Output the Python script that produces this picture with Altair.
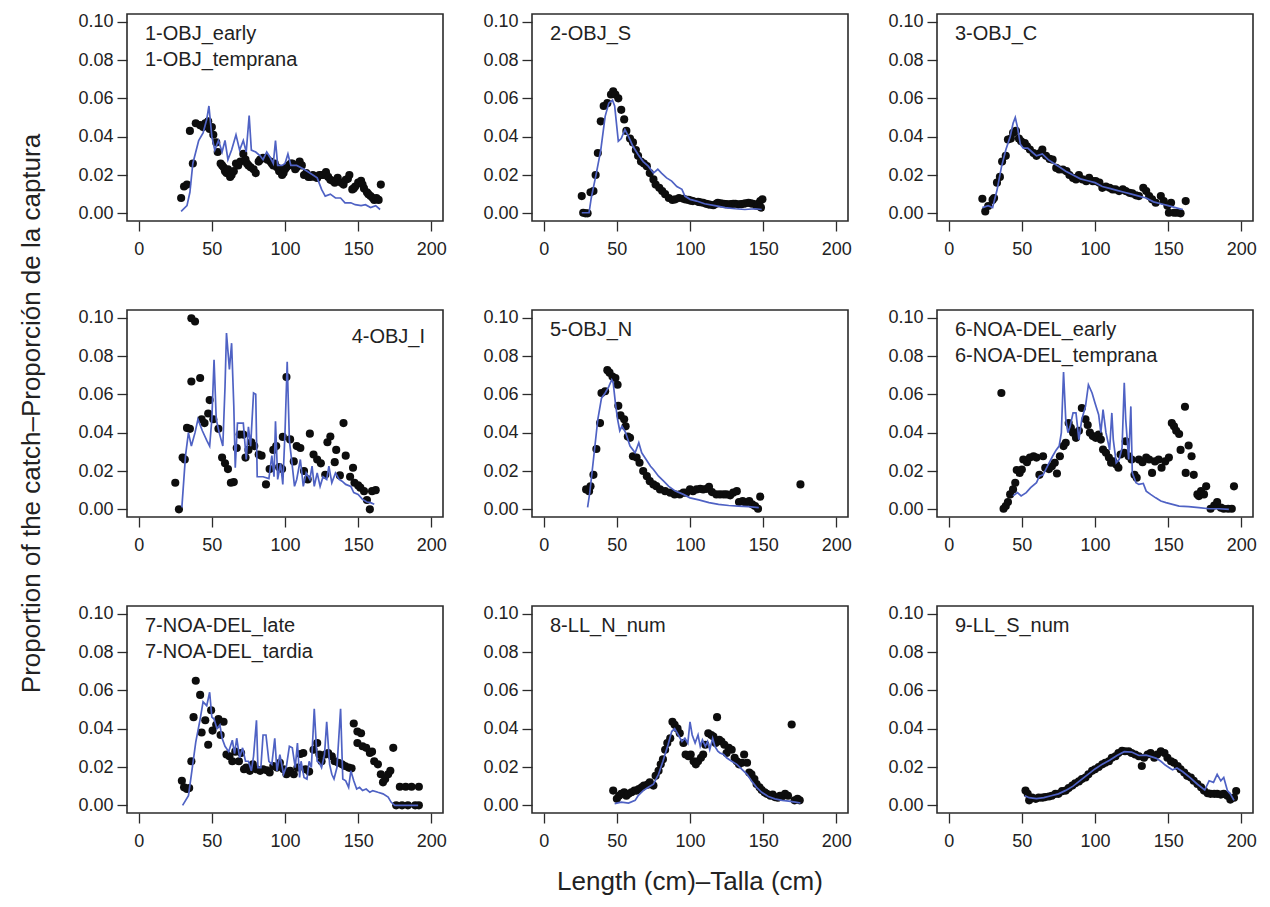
import altair as alt
import pandas as pd

FONT = "Liberation Sans"

# ---------------- data (length cm, proportion) ----------------
p1_obs = [(29,0.008),(31,0.014),(33,0.015),(35,0.043),(37,0.026),(39,0.047),(42,0.046),(44,0.045),(45.5,0.047),(47.5,0.048),
          (48.5,0.044),(50,0.045),(51,0.041),(53,0.037),(54,0.032),(56,0.026),(57,0.025),(58,0.024),(59,0.022),(60,0.021),
          (61,0.023),(62.5,0.019),(63.5,0.020),(65,0.022),(66.5,0.026),(68,0.025),(69.5,0.027),(71.5,0.031),(73,0.028),(74,0.026),
          (75,0.025),(76.5,0.024),(78.5,0.023),(80,0.021),(82,0.027),(83,0.028),(85,0.029),(87,0.029),(88,0.028),(90,0.027),
          (91,0.026),(92,0.025),(93,0.026),(94.5,0.024),(96,0.022),(97,0.023),(98,0.020),(99,0.021),(100,0.023),(101,0.024),
          (102.5,0.025),(104,0.026),(105,0.026),(106,0.025),(107,0.023),(108,0.024),(110,0.027),(111.5,0.025),(113,0.020),(114.5,0.021),
          (116,0.019),(117.5,0.019),(119,0.020),(120.5,0.019),(122,0.0185),(123.5,0.020),(125,0.020),(126.5,0.020),(128,0.0215),(129.5,0.019),
          (131,0.0175),(132.5,0.017),(134,0.016),(135,0.017),(136,0.0185),(138.5,0.016),(140,0.015),(141.5,0.0175),(143,0.018),(144,0.020),
          (146,0.0125),(147,0.013),(148,0.014),(150,0.016),(152,0.017),(153,0.015),(154,0.013),(156,0.011),(157,0.010),(158.5,0.009),
          (160,0.008),(161,0.007),(162.5,0.008),(164,0.007),(165.5,0.015)]
p1_pred = [(29,0.001),(33,0.004),(35,0.011),(37,0.026),(41,0.038),(44,0.042),(46.5,0.049),(48,0.056),(50,0.040),(52,0.033),
           (54.5,0.038),(57,0.032),(59,0.038),(61,0.028),(63.5,0.033),(66.5,0.041),(69,0.033),(71.5,0.038),(73.5,0.032),(75.5,0.051),
           (77,0.033),(80,0.032),(83,0.030),(85,0.028),(87.5,0.032),(90,0.029),(92,0.026),(93.5,0.038),(95,0.025),(98,0.025),
           (100,0.026),(102,0.031),(104,0.025),(108,0.025),(113,0.023),(117,0.021),(122,0.0185),(125,0.0125),(127.5,0.009),(131,0.010),
           (134.5,0.008),(138,0.008),(141,0.0055),(145,0.0055),(148,0.0045),(152,0.004),(155,0.0045),(158.5,0.003),(162,0.004),(165,0.002)]

p2_obs = [(26,0.009),(27,0.0003),(28.5,0.0),(30,0.0),(32,0.011),(34,0.0116),(35.5,0.020),(37,0.0315),(39,0.048),(41,0.056),
          (43.5,0.0575),(46,0.062),(47.5,0.0636),(49,0.062),(51,0.060),(53,0.054),(55,0.049),(56.5,0.043),(59,0.039),(61,0.037),
          (63,0.033),(64.5,0.030),(66.5,0.027),(68.5,0.026),(70.5,0.0246),(72.5,0.021),(75,0.0177),(76.5,0.015),(79,0.0133),(81,0.0116),
          (83,0.010),(85.5,0.008),(88,0.007),(90,0.0073),(92.5,0.008),(95.5,0.0076),(97,0.0072),(99,0.007),(100.5,0.0066),(102,0.0064),
          (105.5,0.006),(107,0.0058),(109,0.0055),(111,0.005),(112.5,0.0047),(114,0.0045),(116,0.0042),(118,0.005),(119,0.0055),(121,0.0052),
          (123,0.005),(124.5,0.0048),(126,0.0047),(128,0.0048),(129.5,0.005),(131,0.005),(133,0.0047),(135,0.0048),(136.5,0.005),(138,0.0052),
          (140,0.0055),(141.5,0.0052),(143,0.005),(145.5,0.004),(146.5,0.005),(148,0.0064),(148.5,0.003),(149.5,0.0073)]
p2_pred = [(26,0.0003),(31,0.0003),(32.5,0.008),(36,0.021),(39,0.033),(42,0.0506),(44.5,0.0575),(47,0.059),(48.5,0.056),(51,0.0376),
           (53,0.039),(55.5,0.0437),(58,0.040),(61,0.035),(64.5,0.0307),(68,0.027),(71.5,0.0246),(75,0.021),(78,0.023),(80.5,0.021),
           (84,0.0185),(87.5,0.0168),(91,0.014),(94.5,0.0125),(96.5,0.009),(100,0.0073),(104.5,0.0064),(110,0.005),(117,0.004),(124,0.003),
           (131,0.0024),(137.5,0.002),(144.5,0.0024),(149,0.002)]

p3_obs = [(23,0.0076),(25,0.001),(27,0.0038),(30,0.007),(31,0.008),(33,0.016),(35,0.019),(36.5,0.027),(39,0.030),(40.5,0.0385),
          (42.5,0.039),(44,0.042),(46,0.043),(48,0.039),(49.5,0.0376),(52,0.0367),(53.5,0.035),(55.5,0.0333),(58,0.0315),(60,0.030),
          (62.5,0.0315),(64,0.0333),(66.5,0.030),(69,0.0284),(71,0.028),(73.5,0.0237),(75.5,0.0229),(78,0.0229),(80.5,0.022),(82.5,0.020),
          (85,0.0185),(87,0.0177),(89,0.020),(91.5,0.0177),(94,0.0168),(96,0.0185),(98.5,0.0168),(100.5,0.0168),(103,0.016),(105,0.0133),
          (107.5,0.014),(110,0.0133),(112,0.0125),(114,0.0125),(116.5,0.0116),(119,0.0125),(121,0.0116),(123.5,0.0107),(125.5,0.0104),(128,0.0094),
          (130,0.009),(133,0.0133),(135,0.0116),(137,0.009),(139,0.0073),(141.5,0.0055),(145,0.009),(147,0.0064),(149.5,0.004),(150.5,0.0003),
          (152,0.0055),(154,0.0003),(156,0.0003),(158.5,0.0),(162,0.0064)]
p3_pred = [(23,0.003),(27,0.004),(30,0.003),(33,0.012),(36,0.024),(39,0.033),(42,0.040),(44,0.047),(45.5,0.050),(47,0.045),
           (49,0.036),(51,0.034),(54,0.034),(57,0.032),(60,0.030),(64,0.031),(68,0.028),(72,0.026),(76,0.024),(80,0.022),
           (85,0.020),(90,0.018),(95,0.017),(100,0.016),(105,0.014),(110,0.013),(115,0.012),(120,0.011),(125,0.010),(130,0.009),
           (135,0.008),(140,0.006),(145,0.005),(150,0.004),(155,0.003),(160,0.002)]

p4_obs = [(25,0.0139),(27.5,0.0),(30,0.027),(31.5,0.026),(33,0.0425),(35,0.042),(36,0.0997),(36,0.0667),(38.5,0.098),(42,0.0685),
          (43,0.047),(45,0.045),(47.5,0.050),(48.5,0.057),(51,0.047),(54.5,0.042),(57,0.027),(59,0.024),(61,0.021),(63,0.0139),
          (65,0.0142),(67,0.032),(69,0.039),(71.5,0.039),(73,0.027),(75,0.031),(77,0.035),(79,0.033),(82,0.0286),(84,0.028),
          (87,0.013),(89.5,0.021),(92,0.031),(94,0.033),(96,0.022),(98,0.021),(98.5,0.0378),(101,0.069),(103.5,0.0365),(106,0.025),
          (108,0.033),(110.5,0.032),(113,0.020),(115.5,0.0156),(117,0.0395),(119.5,0.0286),(122,0.026),(124.5,0.024),(127.5,0.018),(129,0.035),
          (131,0.038),(134,0.0246),(135,0.031),(137.5,0.0177),(140,0.045),(141.5,0.028),(144.5,0.017),(146.5,0.0217),(147.5,0.0139),(150,0.0125),
          (151.5,0.0113),(154,0.0095),(156,0.0049),(158,0.0),(159.5,0.0095),(162,0.010)]
p4_pred = [(29.5,0.001),(32,0.028),(34,0.040),(36,0.033),(38.5,0.040),(40.5,0.047),(43.5,0.041),(46.5,0.036),(48.5,0.033),(50,0.047),
           (51.5,0.078),(53,0.047),(55,0.040),(57.5,0.033),(59,0.064),(60,0.092),(62,0.073),(63.5,0.0867),(65,0.054),(66,0.0217),
           (67.5,0.045),(71.5,0.045),(73.5,0.026),(75,0.043),(76.5,0.033),(78.5,0.0607),(80,0.060),(81,0.017),(85,0.017),(89,0.016),
           (91,0.028),(92.5,0.017),(93.5,0.046),(95,0.0156),(97,0.024),(98.5,0.013),(100,0.040),(101.5,0.077),(103,0.036),(105,0.0225),
           (106.5,0.012),(108,0.0156),(110.5,0.026),(112.5,0.012),(114.5,0.019),(117,0.0156),(118.5,0.0225),(120,0.012),(122,0.019),(124,0.012),
           (126,0.017),(128.5,0.0156),(130,0.0225),(132,0.0139),(134.5,0.019),(137,0.0156),(139,0.0147),(141.5,0.013),(145,0.012),(147,0.0087),
           (150,0.0078),(153,0.0052),(156,0.0038),(158.5,0.0035),(161,0.0026)]

p5_obs = [(29,0.0104),(31,0.0095),(32,0.012),(34,0.018),(36,0.0315),(38.5,0.045),(39.5,0.0607),(42,0.0616),(43.5,0.0726),(45,0.0713),
          (47,0.0693),(49,0.0685),(50.5,0.065),(51,0.054),(52.5,0.049),(55,0.047),(56,0.0433),(57.5,0.038),(59,0.0373),(61,0.0277),
          (63.5,0.027),(65.5,0.0243),(68,0.020),(70.5,0.0173),(72.5,0.0147),(75,0.013),(77,0.0121),(79.5,0.0104),(83,0.0095),(86.5,0.0087),
          (89.5,0.0078),(93,0.0078),(95.5,0.0087),(97.5,0.0087),(100,0.0104),(102,0.0095),(104.5,0.0104),(107,0.0107),(109,0.0104),(111.5,0.0107),
          (113,0.0118),(115,0.009),(118,0.0078),(120.5,0.0078),(123,0.0078),(125,0.0078),(127.5,0.0073),(129.5,0.0087),(132,0.0095),(133.5,0.0038),
          (136,0.0043),(138,0.0035),(140.5,0.0043),(142.5,0.0026),(144.5,0.0017),(146.5,0.0003),(148,0.0066),(175.5,0.013)]
p5_pred = [(30,0.001),(31.5,0.0087),(34,0.026),(37,0.047),(39.5,0.058),(42,0.0607),(44.5,0.064),(46.5,0.0676),(47.5,0.066),(49,0.0555),
           (50.5,0.047),(52,0.041),(53.5,0.0433),(56,0.040),(59,0.033),(62.5,0.0295),(65,0.0347),(67,0.0295),(70,0.026),(73,0.0225),
           (75,0.0208),(78.5,0.0173),(82,0.0147),(85.5,0.012),(90,0.0095),(95.5,0.0078),(100,0.006),(106,0.0049),(113,0.0035),(119.5,0.0026),
           (126.5,0.002),(133,0.0017),(140,0.0014),(147,0.0009)]

p6_obs = [(36,0.0607),(37.5,0.0003),(39,0.0017),(40.5,0.0038),(42,0.0078),(44,0.0104),(45.5,0.0139),(46.5,0.0205),(48.5,0.019),(50,0.0208),
          (51,0.026),(53.5,0.0246),(55.5,0.027),(58,0.0277),(60,0.027),(62,0.018),(64.5,0.0277),(66,0.0217),(68.5,0.021),(70.5,0.0225),
          (72.5,0.0243),(74,0.0187),(76,0.0277),(78.5,0.033),(80,0.0347),(82,0.045),(83.5,0.0425),(85,0.040),(87,0.0373),(89,0.041),
          (91,0.0529),(93.5,0.047),(95,0.044),(96.5,0.040),(98.5,0.0382),(100.5,0.0373),(102.5,0.039),(104,0.0364),(105.5,0.0312),(107.5,0.0295),
          (109.5,0.027),(111,0.0243),(112.5,0.025),(114.5,0.0234),(116,0.0217),(117.5,0.0286),(120,0.0295),(121,0.0355),(123,0.0277),(125,0.026),
          (127,0.018),(128.5,0.0165),(130,0.026),(132.5,0.0246),(135,0.027),(137,0.026),(139,0.019),(141,0.025),(143.5,0.026),(145.5,0.0217),
          (148,0.025),(150.5,0.027),(152.5,0.045),(154,0.0433),(155.5,0.041),(157.5,0.0393),(158.5,0.031),(161.5,0.0535),(162,0.019),(164,0.0333),
          (166,0.0277),(167.5,0.018),(170,0.0078),(171,0.0069),(172.5,0.0095),(174.5,0.0078),(176,0.012),(179,0.0003),(181.5,0.002),(183.5,0.0038),
          (186,0.0009),(188,0.0003),(191,0.0003),(193.5,0.0003),(195,0.012)]
p6_pred = [(44,0.007),(47,0.0087),(49.5,0.007),(53,0.0087),(56,0.0113),(60,0.0139),(62,0.0173),(64.5,0.018),(67.5,0.0225),(71,0.0277),
           (73.5,0.031),(75.5,0.033),(77,0.040),(78.5,0.0716),(80,0.047),(81.5,0.040),(83,0.0433),(85,0.0503),(87,0.0503),(89,0.0364),
           (91,0.047),(93.5,0.0537),(95.5,0.065),(98,0.0607),(100,0.0555),(102.5,0.0494),(104,0.040),(105.5,0.052),(107.5,0.040),(110,0.031),
           (111.5,0.0503),(112.5,0.0364),(114.5,0.0243),(116.5,0.026),(118.5,0.032),(120,0.066),(121,0.047),(123,0.026),(124.5,0.0537),(125.5,0.019),
           (128,0.0139),(130,0.013),(133,0.0135),(135,0.0095),(138,0.0078),(141.5,0.006),(145,0.0043),(148.5,0.0035),(153,0.0026),(157.5,0.0017),
           (164,0.0014),(171,0.0009),(178,0.0003),(185,0.0003),(191.5,0.0)]

p7_obs = [(29.5,0.0128),(31,0.0094),(33,0.0085),(34.5,0.009),(36,0.023),(37.5,0.046),(39,0.065),(42,0.0576),(43,0.038),(45.5,0.0444),
          (47.5,0.0316),(49.5,0.0496),(50.5,0.039),(53,0.042),(54.5,0.045),(56,0.0367),(58,0.0436),(60,0.0265),(62,0.0256),(64,0.023),
          (66,0.028),(68.5,0.023),(70,0.0273),(72,0.0188),(73.5,0.0197),(76,0.018),(78,0.0214),(80.5,0.0188),(83,0.018),(85,0.0188),
          (87.5,0.0183),(89.5,0.0171),(92,0.0205),(94.5,0.0197),(96.5,0.0222),(99,0.0188),(101,0.0162),(103.5,0.018),(106,0.0162),(108.5,0.0197),
          (110.5,0.0268),(112.5,0.0273),(114,0.0188),(116.5,0.0176),(119.5,0.029),(122,0.0325),(123.5,0.0265),(125,0.023),(127.5,0.0265),(129.5,0.0273),
          (132,0.0256),(134,0.023),(136.5,0.0222),(139,0.0214),(141,0.0205),(143.5,0.0197),(145.5,0.0193),(147,0.0427),(149.5,0.0325),(149.5,0.0385),
          (152,0.0376),(153,0.0308),(155.5,0.030),(158,0.0273),(159.5,0.028),(161,0.023),(163.5,0.0214),(165.5,0.0162),(167,0.012),(168.5,0.0137),
          (170.5,0.0162),(172,0.018),(174,0.030),(176,0.0),(178.5,0.0097),(180,0.0),(182.5,0.0097),(184,0.0),(186.5,0.0097),(189,0.0),
          (191.5,0.0),(191.5,0.0097)]
p7_pred = [(30,0.0),(34,0.005),(36,0.016),(39,0.033),(42,0.045),(44,0.054),(46.5,0.052),(48.5,0.059),(50,0.046),(51.5,0.045),
           (53.5,0.040),(55.5,0.042),(57,0.035),(59,0.0308),(61.5,0.028),(64,0.034),(65.5,0.027),(67,0.035),(69,0.0248),(71,0.030),
           (73,0.023),(75,0.023),(77,0.018),(78.5,0.0256),(80.5,0.0444),(81.5,0.0197),(83.5,0.0197),(85,0.0367),(87,0.0367),(89,0.023),
           (91,0.0214),(93,0.035),(94.5,0.018),(96.5,0.0265),(99,0.0162),(101,0.0205),(103,0.0308),(105,0.030),(107,0.0197),(108.5,0.0325),
           (110,0.0145),(111,0.023),(113,0.0145),(115,0.0137),(116.5,0.023),(118,0.0197),(120,0.0504),(122,0.023),(123.5,0.0222),(125,0.0197),
           (127,0.0265),(128.5,0.0436),(130.5,0.0214),(132,0.0162),(133.5,0.0137),(135.5,0.0197),(138,0.0504),(139.5,0.0137),(141.5,0.0128),(143.5,0.0094),
           (145,0.018),(147,0.0128),(149,0.0085),(151,0.0094),(153,0.0077),(155.5,0.0085),(158,0.0068),(160,0.0077),(163.5,0.0068),(167,0.006),
           (170.5,0.0043),(172.5,0.0017),(175,0.0),(191,0.0)]

p8_obs = [(47.5,0.0077),(50,0.0034),(51.5,0.005),(53,0.006),(55,0.0068),(56.5,0.005),(58,0.006),(60,0.0068),(62,0.0077),(63.5,0.0077),
          (65,0.0085),(67,0.0094),(68.5,0.0103),(71,0.0108),(72.5,0.012),(75,0.0103),(76.5,0.0154),(78.5,0.018),(80,0.0214),(81.5,0.024),
          (83,0.029),(84.5,0.0325),(86.5,0.035),(88,0.0436),(89.5,0.042),(91.5,0.040),(93,0.0376),(95.5,0.0325),(97,0.0265),(99,0.0256),
          (100.5,0.0265),(102.5,0.023),(104,0.0214),(105.5,0.023),(107.5,0.0248),(109,0.0265),(110.5,0.0316),(112.5,0.0376),(114.5,0.0367),(116,0.0359),
          (117.5,0.0325),(118.5,0.046),(120,0.0342),(121.5,0.0333),(123.5,0.0316),(125,0.0273),(126.5,0.030),(128.5,0.029),(130.5,0.0248),(132,0.023),
          (133.5,0.0214),(135.5,0.0222),(137,0.0265),(139,0.0222),(140.5,0.0171),(142,0.0162),(144,0.0137),(145.5,0.0111),(147.5,0.0094),(149,0.008),
          (151,0.0068),(152.5,0.006),(155,0.005),(156.5,0.0056),(158,0.0043),(160,0.004),(161.5,0.005),(163,0.0046),(165,0.006),(167,0.005),
          (169.5,0.0422),(171.5,0.0026),(173.5,0.0034),(175,0.0026)]
p8_pred = [(48.5,0.0009),(53,0.0017),(58,0.0012),(62.5,0.0026),(64.5,0.005),(68,0.0077),(71.5,0.0094),(75,0.011),(78.5,0.0162),(81.5,0.023),
           (85,0.0316),(87.5,0.0385),(89.5,0.040),(92,0.0367),(94.5,0.0333),(96.5,0.035),(98.5,0.0325),(100,0.0436),(101.5,0.0367),(103.5,0.0325),
           (105.5,0.0367),(107,0.0308),(108.5,0.0342),(110.5,0.0308),(112,0.0333),(113.5,0.029),(115.5,0.035),(117,0.0308),(119,0.0282),(120.5,0.0273),
           (123,0.0265),(125,0.0248),(128.5,0.023),(132,0.0214),(135.5,0.0188),(139,0.0162),(142,0.0128),(145.5,0.0094),(149,0.0068),(153.5,0.0046),
           (158,0.0034),(163,0.0026),(167.5,0.0022),(172,0.0017),(175.5,0.0012)]

p9_obs = [(52.5,0.0077),(54,0.006),(55,0.0026),(57,0.004),(59.5,0.0034),(61.5,0.004),(64,0.004),(66,0.0043),(68.5,0.0046),(70.5,0.005),
          (73,0.006),(75,0.006),(77.5,0.0074),(80,0.0077),(82,0.009),(84.5,0.0103),(86.5,0.0115),(89,0.0125),(91,0.0137),(93.5,0.0145),
          (95.5,0.0162),(98,0.018),(100,0.0188),(102.5,0.020),(105,0.0214),(107,0.0222),(109.5,0.023),(111.5,0.0248),(114,0.0256),(116,0.0273),
          (118.5,0.0285),(120.5,0.0282),(123,0.0282),(125,0.0273),(127.5,0.0265),(130,0.0256),(132,0.0205),(133.5,0.0248),(136,0.0265),(138,0.0273),
          (140.5,0.0248),(142.5,0.0265),(145,0.0282),(147.5,0.0273),(149.5,0.0248),(152,0.023),(154,0.0222),(156.5,0.0205),(158.5,0.0188),(161,0.0171),
          (163,0.0154),(165.5,0.0145),(167.5,0.0128),(170,0.0111),(172.5,0.0094),(174.5,0.0077),(177,0.0063),(179,0.006),(181.5,0.006),(183.5,0.006),
          (186,0.0056),(188,0.006),(190.5,0.005),(192.5,0.003),(195,0.004),(196.5,0.0075)]
p9_pred = [(52,0.005),(55,0.004),(60,0.0035),(65,0.004),(70,0.005),(75,0.006),(80,0.0078),(85,0.010),(90,0.013),(95,0.016),
           (100,0.019),(105,0.0215),(110,0.0235),(115,0.026),(120,0.028),(125,0.0278),(130,0.026),(135,0.0262),(140,0.025),(142,0.0245),
           (145,0.023),(148,0.021),(151,0.0195),(153,0.0185),(156,0.0195),(160,0.0175),(165,0.0145),(170,0.011),(175,0.008),(178,0.0128),
           (181,0.012),(183.5,0.0162),(186,0.0128),(188,0.0145),(190.5,0.0077),(192.5,0.006),(195,0.0026)]

panel_labels = [["1-OBJ_early", "1-OBJ_temprana"], ["2-OBJ_S"], ["3-OBJ_C"],
                ["4-OBJ_I"], ["5-OBJ_N"], ["6-NOA-DEL_early", "6-NOA-DEL_temprana"],
                ["7-NOA-DEL_late", "7-NOA-DEL_tardia"], ["8-LL_N_num"], ["9-LL_S_num"]]
x_ticks = [0, 50, 100, 150, 200]
y_ticks = [0.0, 0.02, 0.04, 0.06, 0.08, 0.10]
y_title = "Proportion of the catch\u2013Proporci\u00f3n de la captura"
x_title = "Length (cm)\u2013Talla (cm)"

W, H = 316, 207


def panel(obs, pred, lab, right=False, extra=None):
    obs_df = pd.DataFrame(obs, columns=["len", "prop"])
    pred_df = pd.DataFrame(pred, columns=["len", "prop"])
    xs = alt.Scale(domain=[-8, 208], nice=False, zero=False)
    ys = alt.Scale(domain=[-0.004, 0.104], nice=False, zero=False)
    xa = alt.Axis(values=x_ticks, format="d", title=None)
    ya = alt.Axis(values=y_ticks, format=".2f", title=None)
    pts = alt.Chart(obs_df).mark_circle(size=66, color="#0d0d0d", opacity=1).encode(
        x=alt.X("len:Q", scale=xs, axis=xa), y=alt.Y("prop:Q", scale=ys, axis=ya))
    line = alt.Chart(pred_df).mark_line(color="#4f62c4", strokeWidth=1.7).encode(
        x=alt.X("len:Q", scale=xs, axis=xa), y=alt.Y("prop:Q", scale=ys, axis=ya))
    txt = alt.Chart(pd.DataFrame({"k": [0]})).mark_text(
        text=lab, align="right" if right else "left", baseline="alphabetic",
        fontSize=20, font=FONT, color="#222222", lineHeight=26).encode(
        x=alt.value(298 if right else 18), y=alt.value(33 if right else 26))
    layers = [pts, line, txt]
    if extra is not None:
        layers.append(extra)
    return alt.layer(*layers).properties(width=W, height=H)


ytitle_layer = alt.Chart(pd.DataFrame({"k": [0]})).mark_text(
    text=y_title, angle=270, align="center", baseline="middle", fontSize=26,
    font=FONT, color="#222222").encode(x=alt.value(-95), y=alt.value(103.5))
xtitle_layer = alt.Chart(pd.DataFrame({"k": [0]})).mark_text(
    text=x_title, align="center", baseline="middle", fontSize=26,
    font=FONT, color="#222222").encode(x=alt.value(158), y=alt.value(276))

series = [(p1_obs, p1_pred), (p2_obs, p2_pred), (p3_obs, p3_pred),
          (p4_obs, p4_pred), (p5_obs, p5_pred), (p6_obs, p6_pred),
          (p7_obs, p7_pred), (p8_obs, p8_pred), (p9_obs, p9_pred)]

panels = []
for i, (o, p) in enumerate(series):
    extra = ytitle_layer if i == 3 else (xtitle_layer if i == 7 else None)
    panels.append(panel(o, p, panel_labels[i], right=(i == 3), extra=extra))

chart = alt.concat(*panels, columns=3, spacing=89, bounds="flush").properties(
    padding={"left": 18, "top": 11, "right": 10, "bottom": 10},
    background="white",
).configure_view(
    stroke="#2b2b2b", strokeWidth=1.6
).configure_axis(
    labelFont=FONT, labelFontSize=18, labelColor="#222222",
    tickColor="#2b2b2b", tickWidth=1.3, tickSize=10,
    grid=False, domain=False,
).configure_axisX(labelPadding=9).configure_axisY(labelPadding=4)

chart.save("out.html", embed_options={"renderer": "svg", "actions": False})
